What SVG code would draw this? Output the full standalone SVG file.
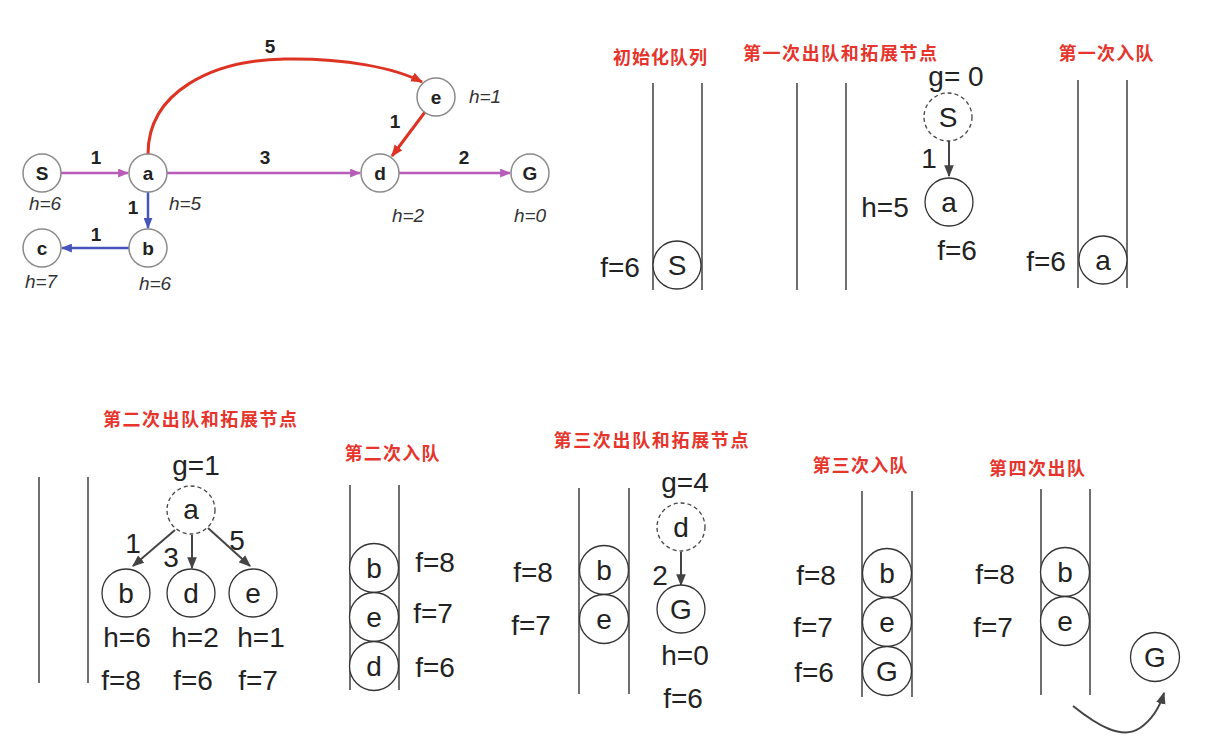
<svg xmlns="http://www.w3.org/2000/svg" width="1209" height="755" viewBox="0 0 1209 755">
<style>
.title{font-family:"Noto Sans CJK SC","Noto Sans",sans-serif;font-weight:bold;font-size:18px;fill:#e5352c;text-anchor:middle}
.gn{fill:#fff;stroke:#8a8a8a;stroke-width:1.5}
.gl{font-family:"Liberation Sans",Arial,sans-serif;font-weight:bold;font-size:19px;fill:#222;text-anchor:middle}
.gh{font-family:"Liberation Sans",Arial,sans-serif;font-style:italic;font-size:19px;fill:#333;text-anchor:middle}
.ql{stroke:#333;stroke-width:1.4;fill:none}
.qn{fill:#fff;stroke:#333;stroke-width:1.3}
.qd{fill:#fff;stroke:#444;stroke-width:1.3;stroke-dasharray:4,3}
.qt{font-family:"Liberation Sans",Arial,sans-serif;font-size:28px;fill:#222;text-anchor:middle}
.ep{stroke:#b75db9;stroke-width:2.5;fill:none}
.eb{stroke:#4655bb;stroke-width:2.5;fill:none}
.er{stroke:#dd3322;stroke-width:3;fill:none}
.ek{stroke:#444;stroke-width:2;fill:none}
</style>
<defs>
<marker id="mp" viewBox="0 0 10 8" refX="9" refY="4" markerWidth="11" markerHeight="9" markerUnits="userSpaceOnUse" orient="auto"><path d="M0,0 L10,4 L0,8 z" fill="#b75db9"/></marker>
<marker id="mb" viewBox="0 0 10 8" refX="9" refY="4" markerWidth="11" markerHeight="9" markerUnits="userSpaceOnUse" orient="auto"><path d="M0,0 L10,4 L0,8 z" fill="#4655bb"/></marker>
<marker id="mr" viewBox="0 0 10 8" refX="9" refY="4" markerWidth="12" markerHeight="10" markerUnits="userSpaceOnUse" orient="auto"><path d="M0,0 L10,4 L0,8 z" fill="#dd3322"/></marker>
<marker id="mk" viewBox="0 0 10 8" refX="9" refY="4" markerWidth="12" markerHeight="10" markerUnits="userSpaceOnUse" orient="auto"><path d="M0,0 L10,4 L0,8 z" fill="#444"/></marker>
</defs>
<rect width="1209" height="755" fill="#fff"/>

<!-- Top-left graph -->
<g id="graph-connectors">
<path class="ep" d="M61,173 L128,173" marker-end="url(#mp)"/>
<path class="ep" d="M167,173 L360,173" marker-end="url(#mp)"/>
<path class="ep" d="M399,173 L510,173" marker-end="url(#mp)"/>
<path class="eb" d="M148,192 L148,228" marker-end="url(#mb)"/>
<path class="eb" d="M129,248 L62,248" marker-end="url(#mb)"/>
<path class="er" d="M148,154 C148,92 212,60 285,59 C345,58 395,68 422,82" marker-end="url(#mr)"/>
<path class="er" d="M425,112 L392,156" marker-end="url(#mr)"/>
<text class="gl" x="96" y="164">1</text>
<text class="gl" x="265" y="164">3</text>
<text class="gl" x="464" y="164">2</text>
<text class="gl" x="270" y="53">5</text>
<text class="gl" x="395" y="128">1</text>
<text class="gl" x="133" y="214">1</text>
<text class="gl" x="96" y="241">1</text>
</g>
<g id="g-S"><circle class="gn" cx="42" cy="173" r="19"/><text class="gl" x="42" y="180">S</text><text class="gh" x="45" y="210">h=6</text></g>
<g id="g-a"><circle class="gn" cx="148" cy="173" r="19"/><text class="gl" x="148" y="180">a</text><text class="gh" x="185" y="210">h=5</text></g>
<g id="g-d"><circle class="gn" cx="380" cy="173" r="19"/><text class="gl" x="380" y="180">d</text><text class="gh" x="408" y="222">h=2</text></g>
<g id="g-G"><circle class="gn" cx="530" cy="173" r="19"/><text class="gl" x="530" y="180">G</text><text class="gh" x="530" y="222">h=0</text></g>
<g id="g-e"><circle class="gn" cx="436" cy="97" r="19"/><text class="gl" x="436" y="104">e</text><text class="gh" x="485" y="103">h=1</text></g>
<g id="g-c"><circle class="gn" cx="42" cy="248" r="19"/><text class="gl" x="42" y="255">c</text><text class="gh" x="41" y="288">h=7</text></g>
<g id="g-b"><circle class="gn" cx="148" cy="248" r="19"/><text class="gl" x="148" y="255">b</text><text class="gh" x="155" y="290">h=6</text></g>

<!-- Step: init queue -->
<g id="step-init">
<text class="title" x="660" y="64" textLength="94" lengthAdjust="spacing">初始化队列</text>
<line class="ql" x1="653" y1="83" x2="653" y2="290"/><line class="ql" x1="702" y1="83" x2="702" y2="290"/>
<circle class="qn" cx="677" cy="265" r="24"/><text class="qt" x="677" y="275">S</text>
<text class="qt" x="620" y="277">f=6</text>
</g>

<!-- Step 1 dequeue/expand -->
<g id="step-1-expand">
<text class="title" x="840" y="60" textLength="194" lengthAdjust="spacing">第一次出队和拓展节点</text>
<line class="ql" x1="797" y1="83" x2="797" y2="290"/><line class="ql" x1="846" y1="83" x2="846" y2="290"/>
<text class="qt" x="956" y="86">g= 0</text>
<circle class="qd" cx="948" cy="117" r="24"/><text class="qt" x="948" y="127">S</text>
<path class="ek" d="M949,141 L949,176" marker-end="url(#mk)"/>
<text class="qt" x="929" y="168">1</text>
<circle class="qn" cx="949" cy="202" r="24"/><text class="qt" x="949" y="212">a</text>
<text class="qt" x="885" y="217">h=5</text>
<text class="qt" x="957" y="260">f=6</text>
</g>

<!-- Step 1 enqueue -->
<g id="step-1-enqueue">
<text class="title" x="1106" y="60" textLength="95" lengthAdjust="spacing">第一次入队</text>
<line class="ql" x1="1078" y1="80" x2="1078" y2="288"/><line class="ql" x1="1127" y1="80" x2="1127" y2="288"/>
<circle class="qn" cx="1103" cy="260" r="24"/><text class="qt" x="1103" y="270">a</text>
<text class="qt" x="1046" y="271">f=6</text>
</g>

<!-- Step 2 dequeue/expand -->
<g id="step-2-expand">
<text class="title" x="200" y="426" textLength="194" lengthAdjust="spacing">第二次出队和拓展节点</text>
<line class="ql" x1="39" y1="477" x2="39" y2="683"/><line class="ql" x1="88" y1="477" x2="88" y2="683"/>
<text class="qt" x="196" y="475">g=1</text>
<circle class="qd" cx="191" cy="510" r="24"/><text class="qt" x="191" y="519">a</text>
<path class="ek" d="M175,530 L133,566" marker-end="url(#mk)"/>
<path class="ek" d="M192,535 L192,568" marker-end="url(#mk)"/>
<path class="ek" d="M208,528 L250,566" marker-end="url(#mk)"/>
<text class="qt" x="133" y="553">1</text>
<text class="qt" x="171" y="567">3</text>
<text class="qt" x="237" y="550">5</text>
<circle class="qn" cx="126" cy="593" r="24"/><text class="qt" x="126" y="603">b</text>
<circle class="qn" cx="191" cy="593" r="24"/><text class="qt" x="191" y="603">d</text>
<circle class="qn" cx="253" cy="593" r="24"/><text class="qt" x="253" y="603">e</text>
<text class="qt" x="127" y="647">h=6</text>
<text class="qt" x="195" y="647">h=2</text>
<text class="qt" x="261" y="647">h=1</text>
<text class="qt" x="121" y="690">f=8</text>
<text class="qt" x="193" y="690">f=6</text>
<text class="qt" x="258" y="690">f=7</text>
</g>

<!-- Step 2 enqueue -->
<g id="step-2-enqueue">
<text class="title" x="392" y="460" textLength="95" lengthAdjust="spacing">第二次入队</text>
<line class="ql" x1="350" y1="485" x2="350" y2="690"/><line class="ql" x1="399" y1="485" x2="399" y2="690"/>
<circle class="qn" cx="374" cy="568" r="24.5"/><text class="qt" x="374" y="578">b</text>
<circle class="qn" cx="374" cy="617" r="24.5"/><text class="qt" x="374" y="627">e</text>
<circle class="qn" cx="374" cy="666" r="24.5"/><text class="qt" x="374" y="676">d</text>
<text class="qt" x="435" y="572">f=8</text>
<text class="qt" x="433" y="623">f=7</text>
<text class="qt" x="435" y="677">f=6</text>
</g>

<!-- Step 3 dequeue/expand -->
<g id="step-3-expand">
<text class="title" x="651" y="447" textLength="195" lengthAdjust="spacing">第三次出队和拓展节点</text>
<line class="ql" x1="579" y1="488" x2="579" y2="694"/><line class="ql" x1="629" y1="488" x2="629" y2="694"/>
<circle class="qn" cx="604" cy="570" r="24.5"/><text class="qt" x="604" y="580">b</text>
<circle class="qn" cx="604" cy="619" r="24.5"/><text class="qt" x="604" y="629">e</text>
<text class="qt" x="533" y="582">f=8</text>
<text class="qt" x="531" y="635">f=7</text>
<text class="qt" x="685" y="492">g=4</text>
<circle class="qd" cx="681" cy="527" r="24"/><text class="qt" x="681" y="537">d</text>
<path class="ek" d="M681,552 L681,585" marker-end="url(#mk)"/>
<text class="qt" x="660" y="585">2</text>
<circle class="qn" cx="681" cy="609" r="24"/><text class="qt" x="681" y="619">G</text>
<text class="qt" x="685" y="665">h=0</text>
<text class="qt" x="683" y="708">f=6</text>
</g>

<!-- Step 3 enqueue -->
<g id="step-3-enqueue">
<text class="title" x="860" y="472" textLength="95" lengthAdjust="spacing">第三次入队</text>
<line class="ql" x1="862" y1="491" x2="862" y2="697"/><line class="ql" x1="912" y1="491" x2="912" y2="697"/>
<circle class="qn" cx="887" cy="573" r="24.5"/><text class="qt" x="887" y="583">b</text>
<circle class="qn" cx="887" cy="622" r="24.5"/><text class="qt" x="887" y="632">e</text>
<circle class="qn" cx="887" cy="671" r="24.5"/><text class="qt" x="887" y="681">G</text>
<text class="qt" x="816" y="585">f=8</text>
<text class="qt" x="813" y="637">f=7</text>
<text class="qt" x="814" y="682">f=6</text>
</g>

<!-- Step 4 dequeue -->
<g id="step-4-dequeue">
<text class="title" x="1037" y="475" textLength="96" lengthAdjust="spacing">第四次出队</text>
<line class="ql" x1="1041" y1="489" x2="1041" y2="695"/><line class="ql" x1="1090" y1="489" x2="1090" y2="695"/>
<circle class="qn" cx="1065" cy="572" r="24.5"/><text class="qt" x="1065" y="582">b</text>
<circle class="qn" cx="1065" cy="621" r="24.5"/><text class="qt" x="1065" y="631">e</text>
<text class="qt" x="995" y="584">f=8</text>
<text class="qt" x="993" y="637">f=7</text>
<circle class="qn" cx="1155" cy="657" r="24.5"/><text class="qt" x="1155" y="667">G</text>
<path class="ek" d="M1073,706 C1098,726 1122,740 1140,728 C1153,719 1160,706 1164,693" marker-end="url(#mk)"/>
</g>
</svg>
